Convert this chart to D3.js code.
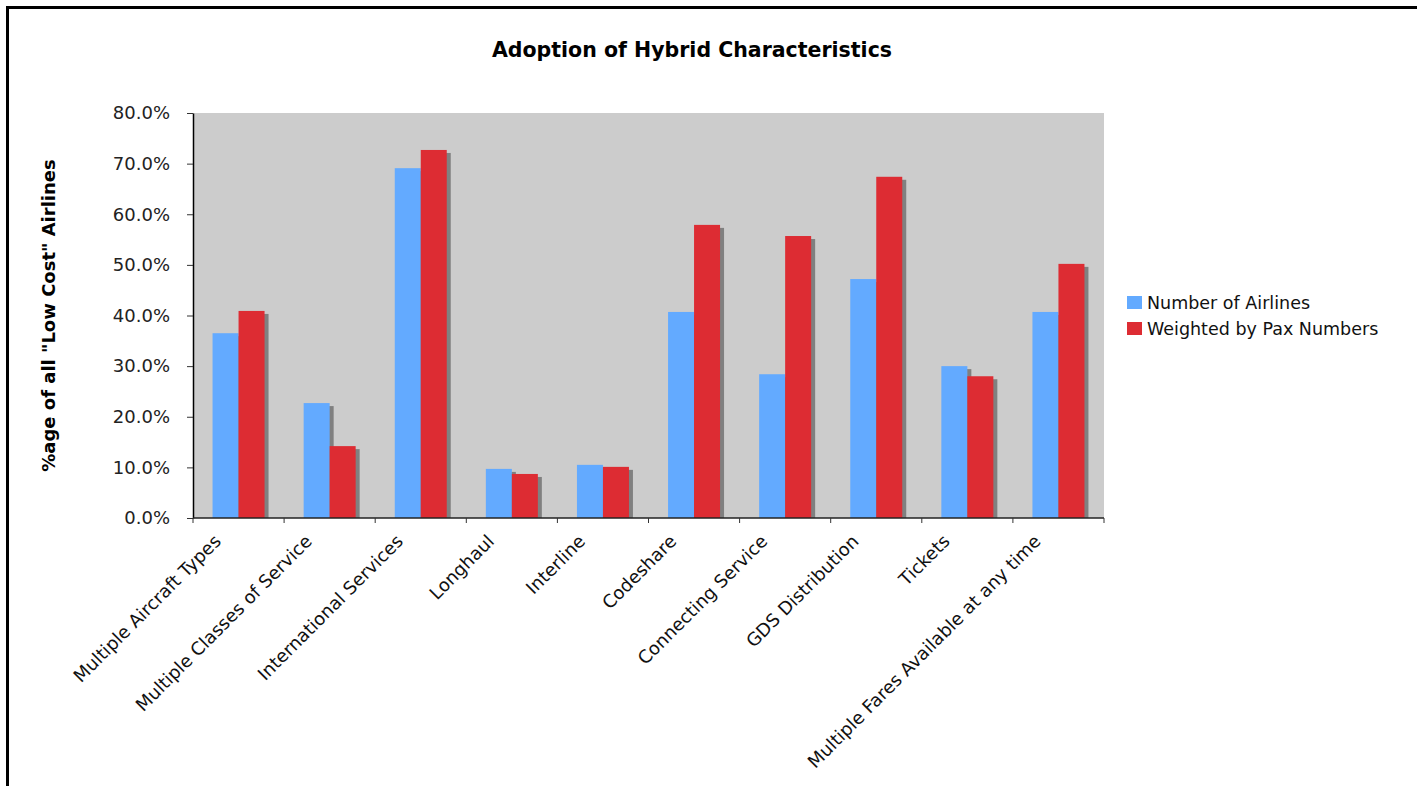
<!DOCTYPE html>
<html>
<head>
<meta charset="utf-8">
<script src="https://cdn.jsdelivr.net/npm/d3@7"></script>
<style>
  html, body { margin: 0; padding: 0; background: #fff; }
  svg { display: block; font-family: "DejaVu Sans", Verdana, sans-serif; }
</style>
</head>
<body>
<svg id="chart" width="1417" height="786"></svg>
<script>
// Hybrid characteristics adopted by "low cost" airlines
const categories = [
  "Multiple Aircraft Types",
  "Multiple Classes of Service",
  "International Services",
  "Longhaul",
  "Interline",
  "Codeshare",
  "Connecting Service",
  "GDS Distribution",
  "Tickets",
  "Multiple Fares Available at any time"
];
const seriesNames = ["Number of Airlines", "Weighted by Pax Numbers"];
const numberOfAirlines = [0.365, 0.227, 0.691, 0.097, 0.105, 0.407, 0.284, 0.472, 0.300, 0.407];
const weightedByPax   = [0.409, 0.142, 0.727, 0.087, 0.101, 0.579, 0.557, 0.674, 0.280, 0.502];
const yTicks = [0, 0.1, 0.2, 0.3, 0.4, 0.5, 0.6, 0.7, 0.8];
const colors = ["#63aaff", "#dd2c33"];

const svg = d3.select("#chart");
const plot = { left: 193, right: 1104, top: 113, bottom: 518 };

// outer frame
svg.append("rect")
  .attr("x", 7.5).attr("y", 7.5)
  .attr("width", 1500).attr("height", 900)
  .attr("fill", "none").attr("stroke", "#000").attr("stroke-width", 3);

// title
svg.append("text")
  .attr("x", 692).attr("y", 57)
  .attr("text-anchor", "middle")
  .attr("font-weight", "bold").attr("font-size", 20.5)
  .attr("fill", "#000")
  .text("Adoption of Hybrid Characteristics");

const x0 = d3.scaleBand().domain(categories).range([plot.left, plot.right]).paddingInner(0).paddingOuter(0);
const barW = 26;
const x1 = d3.scaleBand().domain(seriesNames).range([0, barW * 2]);
const y = d3.scaleLinear().domain([0, 0.8]).range([plot.bottom, plot.top]);

// plot background
svg.append("rect")
  .attr("x", plot.left).attr("y", plot.top)
  .attr("width", plot.right - plot.left).attr("height", plot.bottom - plot.top)
  .attr("fill", "#cccccc");

const rows = categories.map((c, i) => ({ cat: c, vals: [numberOfAirlines[i], weightedByPax[i]] }));
const groupOffset = (x0.bandwidth() - barW * 2) / 2;

const groups = svg.append("g").selectAll("g")
  .data(rows).join("g")
  .attr("transform", d => `translate(${x0(d.cat) + groupOffset},0)`);

// drop shadows then bars, series by series
seriesNames.forEach((s, si) => {
  groups.append("rect")
    .attr("x", x1(s) + 4)
    .attr("y", d => y(d.vals[si]) + 3)
    .attr("width", barW)
    .attr("height", d => Math.max(0, y(0) - y(d.vals[si]) - 3))
    .attr("fill", "#808080");
  groups.append("rect")
    .attr("x", x1(s))
    .attr("y", d => y(d.vals[si]))
    .attr("width", barW)
    .attr("height", d => y(0) - y(d.vals[si]))
    .attr("fill", colors[si]);
});

// y axis
const yAxis = d3.axisLeft(y).tickValues(yTicks).tickFormat(d3.format(".1%")).tickSize(6).tickSizeOuter(0);
const gy = svg.append("g").attr("transform", `translate(${plot.left},0)`).call(yAxis);
gy.select(".domain").attr("stroke", "#000").attr("stroke-width", 1.5);
gy.selectAll(".tick line").attr("stroke", "#333");
gy.selectAll(".tick text")
  .attr("x", -23).attr("font-size", 18).attr("fill", "#222")
  .attr("font-family", "DejaVu Sans, sans-serif");

// x axis: ticks at category boundaries
const xAxisLine = svg.append("g");
xAxisLine.append("line")
  .attr("x1", plot.left).attr("x2", plot.right)
  .attr("y1", plot.bottom).attr("y2", plot.bottom)
  .attr("stroke", "#222").attr("stroke-width", 1.5);
const boundaries = categories.map(c => x0(c)).concat([plot.right]);
xAxisLine.selectAll("line.tk").data(boundaries).join("line")
  .attr("class", "tk")
  .attr("x1", d => d).attr("x2", d => d)
  .attr("y1", plot.bottom).attr("y2", plot.bottom + 5)
  .attr("stroke", "#333");

// category labels, rotated
svg.append("g").selectAll("text")
  .data(categories).join("text")
  .attr("transform", d => `translate(${x0(d) + x0.bandwidth() / 2 - 21},${plot.bottom + 20}) rotate(-45)`)
  .attr("text-anchor", "end")
  .attr("dy", "0.35em")
  .attr("font-size", 18).attr("fill", "#111")
  .text(d => d);

// y axis title
svg.append("text")
  .attr("transform", `translate(55,${(plot.top + plot.bottom) / 2}) rotate(-90)`)
  .attr("text-anchor", "middle")
  .attr("font-weight", "bold").attr("font-size", 18)
  .attr("fill", "#000")
  .text('%age of all "Low Cost" Airlines');

// legend
const legend = svg.append("g").attr("transform", "translate(1127,296)");
seriesNames.forEach((s, i) => {
  legend.append("rect")
    .attr("x", 0).attr("y", i * 26)
    .attr("width", 15).attr("height", 13)
    .attr("fill", colors[i]);
  legend.append("text")
    .attr("x", 20).attr("y", i * 26 + 13)
    .attr("font-size", 17.5).attr("fill", "#111")
    .text(s);
});
</script>
</body>
</html>
